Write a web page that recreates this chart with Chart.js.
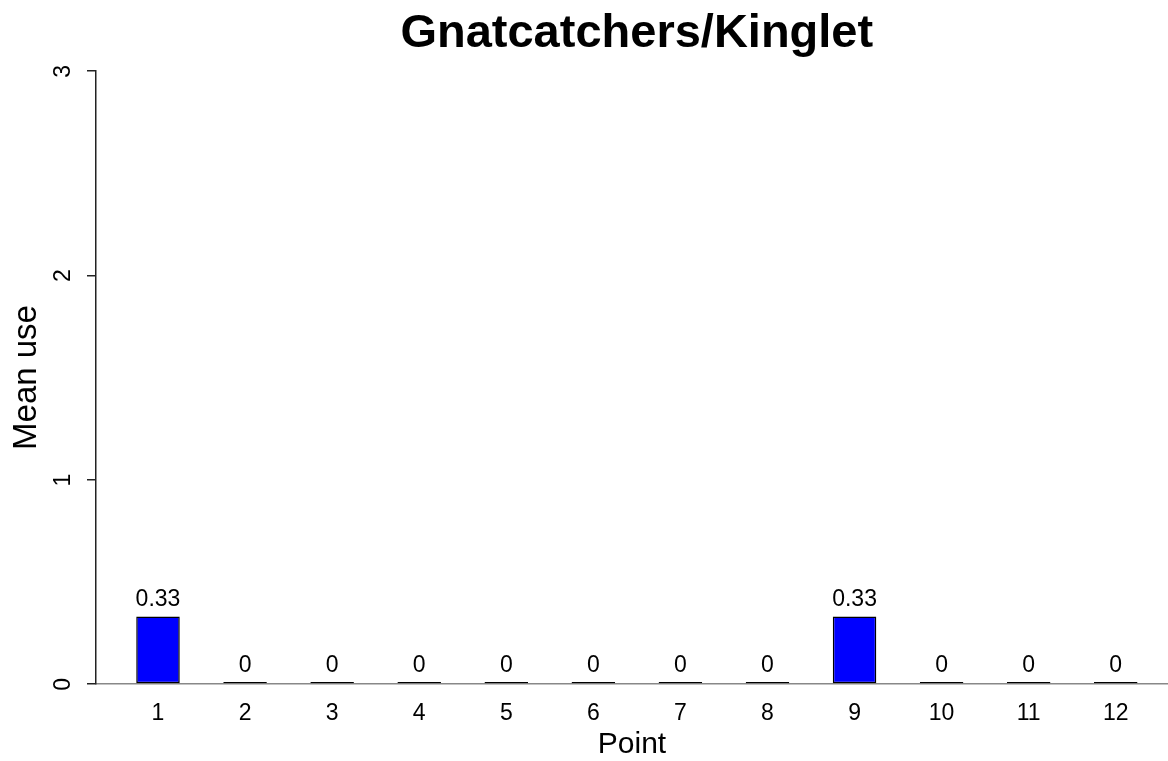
<!DOCTYPE html>
<html>
<head>
<meta charset="utf-8">
<script src="https://cdn.jsdelivr.net/npm/chart.js@4/dist/chart.umd.min.js"></script>
<style>
  body { margin: 0; background: #fff; }
  #wrap { width: 1168px; height: 761px; position: relative; }
</style>
</head>
<body>
<div id="wrap"><canvas id="chart"></canvas></div>
<script>
var chartTitle = "Gnatcatchers/Kinglet";
var points = [1, 2, 3, 4, 5, 6, 7, 8, 9, 10, 11, 12];
var meanUse = [0.33, 0, 0, 0, 0, 0, 0, 0, 0.33, 0, 0, 0];
var valueLabels = ["0.33", "0", "0", "0", "0", "0", "0", "0", "0.33", "0", "0", "0"];
var yTicks = [0, 1, 2, 3];

var FONT = "'Liberation Sans', Arial, sans-serif";

// title + value labels above bars
var barText = {
    id: "barText",
    afterDatasetsDraw: function(chart) {
        var ctx = chart.ctx;
        var meta = chart.getDatasetMeta(0);
        ctx.save();
        ctx.fillStyle = "#000";
        ctx.font = "23px " + FONT;
        ctx.textAlign = "center";
        ctx.textBaseline = "bottom";
        meta.data.forEach(function(bar, i) {
            ctx.fillText(valueLabels[i], bar.x, bar.y - 5);
        });
        var x = chart.scales.x;
        ctx.font = "bold 47px " + FONT;
        ctx.textBaseline = "middle";
        ctx.fillText(chartTitle, (x.left + x.getPixelForValue(12.71)) / 2, 34);
        ctx.restore();
    }
};

new Chart(document.getElementById("chart"), {
    type: "bar",
    data: {
        datasets: [{
            data: points.map(function(p, i) { return { x: p, y: meanUse[i] }; }),
            backgroundColor: "#0000ff",
            borderColor: "#000",
            borderWidth: 1.5,
            borderSkipped: false,
            minBarLength: 2,
            barPercentage: 0.5,
            categoryPercentage: 1.0
        }]
    },
    options: {
        responsive: true,
        maintainAspectRatio: false,
        animation: false,
        layout: { padding: { top: 71, right: 0, bottom: 0, left: 0 } },
        plugins: { legend: { display: false }, tooltip: { enabled: false } },
        scales: {
            x: {
                type: "linear",
                offset: false,
                min: 0.288,
                max: 12.6,
                grid: { display: false, drawTicks: false },
                border: { display: true, color: "#888", width: 1.5 },
                afterBuildTicks: function(scale) {
                    scale.ticks = points.map(function(p) { return { value: p }; });
                },
                afterFit: function(scale) { scale.height = 77; },
                ticks: {
                    color: "#000",
                    font: { family: FONT, size: 23 },
                    padding: 16,
                    autoSkip: false,
                    maxRotation: 0
                },
                title: {
                    display: true,
                    text: "Point",
                    color: "#000",
                    font: { family: FONT, size: 30, lineHeight: 1 },
                    padding: { top: 0, bottom: 1 }
                }
            },
            y: {
                min: 0,
                max: 3,
                afterBuildTicks: function(scale) {
                    scale.ticks = yTicks.map(function(v) { return { value: v }; });
                },
                afterFit: function(scale) { scale.width = 96; },
                grid: { display: true, drawOnChartArea: false, tickLength: 9, color: "#222", lineWidth: 1.5 },
                border: { display: true, color: "#222", width: 1.5 },
                ticks: {
                    color: "#000",
                    font: { family: FONT, size: 23 },
                    padding: 23,
                    labelOffset: -6,
                    minRotation: 90,
                    maxRotation: 90
                },
                title: {
                    display: true,
                    text: "Mean use",
                    color: "#000",
                    font: { family: FONT, size: 33, lineHeight: 1 },
                    padding: { top: 10, bottom: 0 }
                }
            }
        }
    },
    plugins: [barText]
});
</script>
</body>
</html>
